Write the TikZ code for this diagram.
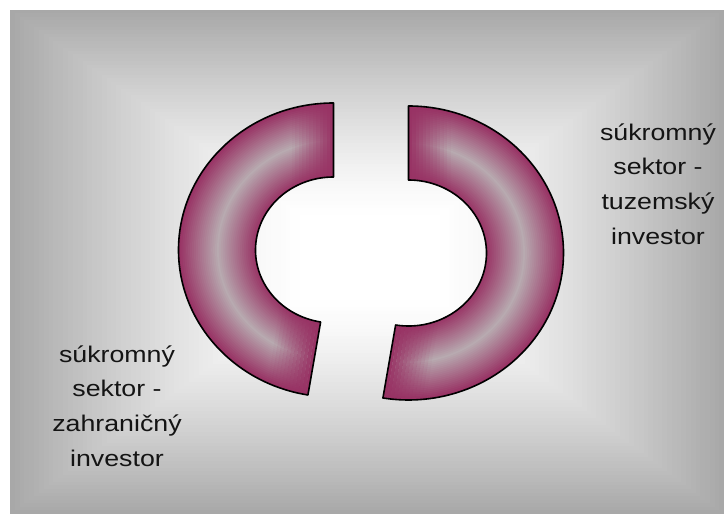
\documentclass[tikz,border=0pt]{standalone}
\usepackage{fontspec}
\newfontfamily\sectorfont{Liberation Sans}
\definecolor{bggray}{RGB}{168,168,168}
\definecolor{ringdark}{RGB}{152,50,100}
\definecolor{ringlight}{RGB}{184,170,176}

\begin{document}
\begin{tikzpicture}[x=0.75pt, y=0.75pt,
  outline/.style={draw=black, line width=1.2pt, line join=round},
  sectortext/.style={font=\sectorfont\fontsize{17}{26}\selectfont, text=black!92, align=center, inner sep=0pt, xscale=1.18}]
  \useasboundingbox (0,0) rectangle (724,514);
  \fill[white] (0,0) rectangle (724,514);
  \fill[bggray] (10,0) rectangle (724,504);
  \foreach \i in {1,...,60}{
    \pgfmathsetmacro{\g}{1-\i/60}
    \pgfmathsetmacro{\w}{100*(1-\g^1.3)}
    \fill[white!\w!bggray] ({300-290*\g},{214-214*\g}) rectangle ({440+284*\g},{299+205*\g});
  }
  \foreach \name/\cx/\cy/\b/\rt/\rb in {left/333.5/264/260.5/180/171, right/408.5/261/-99.5/0/-9}{
    \coordinate (\name c) at (\cx,\cy);
    \def\piece{([shift={(90:155 and 147)}]\name c) arc[start angle=90, end angle=\b, x radius=155, y radius=147]
      -- ([shift={(\b:78 and 73)}]\name c) arc[start angle=\b, end angle=90, x radius=78, y radius=73] -- cycle}
    \begin{scope}
      \clip \piece;
      \fill[ringdark] (\name c) ellipse[x radius=160, y radius=152];
      \foreach \k in {0,...,40}{
        \pgfmathsetmacro{\p}{100*(1-abs(2*\k/40-1))}
        \pgfmathsetmacro{\rx}{155-77*\k/40}
        \pgfmathsetmacro{\ry}{147-74*\k/40}
        \fill[ringlight!\p!ringdark] (\name c) ellipse[x radius=\rx, y radius=\ry];
      }
      \begin{scope}[shift={(\name c)}]
        \begin{scope}[shift={(0,110)}, rotate=\rt]
          \foreach \k in {0,...,11}
            \fill[ringdark, fill opacity={1-(\k+0.5)/12}] (\k*3.5,-60) rectangle ({(\k+1)*3.5},60);
        \end{scope}
        \begin{scope}[shift={(\b:116.5 and 110)}, rotate=\rb]
          \foreach \k in {0,...,11}
            \fill[ringdark, fill opacity={1-(\k+0.5)/12}] (\k*3.5,-60) rectangle ({(\k+1)*3.5},60);
        \end{scope}
      \end{scope}
    \end{scope}
    \path[outline] \piece;
  }
  \node[sectortext] (domestic) at (658,330) {súkromný\\sektor -\\tuzemský\\investor};
  \node[sectortext] (foreign) at (117,108) {súkromný\\sektor -\\zahraničný\\investor};
\end{tikzpicture}
\end{document}
